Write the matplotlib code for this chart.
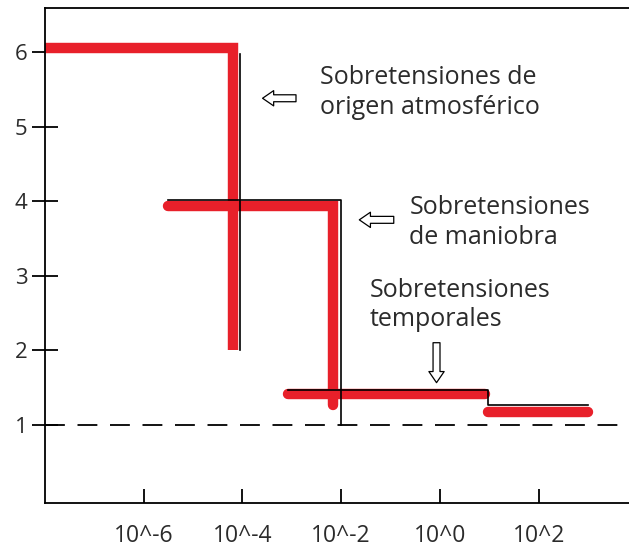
import matplotlib.pyplot as plt

# x in decades (log10 of time), y in p.u.
atm_x = [-8.0, -4.19, -4.19]
atm_y = [6.05, 6.05, 2.0]
man_x = [-5.5, -2.17, -2.17]
man_y = [3.94, 3.94, 1.27]
temp_x = [-3.08, 0.92]
temp_y = [1.41, 1.41]
temp2_x = [0.98, 3.0]
temp2_y = [1.17, 1.17]

# thin black envelope
env1_x = [-4.06, -4.06]
env1_y = [5.97, 2.0]
env2_x = [-5.5, -2.0, -2.0]
env2_y = [4.02, 4.02, 1.0]
env3_x = [-3.08, 0.98, 0.98, 3.0]
env3_y = [1.47, 1.47, 1.27, 1.27]

xticks = [-6, -4, -2, 0, 2]
xlabels = ['10^-6', '10^-4', '10^-2', '10^0', '10^2']
yticks = [1, 2, 3, 4, 5, 6]

red = '#e8202a'
txt = '#2b2b2b'
font = 'Open Sans'

fig = plt.figure(figsize=(6.29, 5.52), dpi=100)
ax = fig.add_axes([45/629, 49/552, 590/629, 495/552])

ax.axhline(1, color='black', lw=1.3, dashes=(11, 7))

ax.plot(atm_x, atm_y, color=red, lw=7.5, solid_joinstyle='miter', solid_capstyle='butt')
ax.plot(man_x, man_y, color=red, lw=7.5, solid_joinstyle='miter', solid_capstyle='round')
ax.plot(temp_x, temp_y, color=red, lw=7.5, solid_capstyle='round')
ax.plot(temp2_x, temp2_y, color=red, lw=7.5, solid_capstyle='round')

for ex, ey in [(env1_x, env1_y), (env2_x, env2_y), (env3_x, env3_y)]:
    ax.plot(ex, ey, color='black', lw=1.2)

# hollow arrows
arr = dict(arrowstyle='simple,head_length=0.8,head_width=1.1,tail_width=0.5',
           fc='white', ec='black', lw=0.9)
ax.annotate('', xy=(-3.65, 5.38), xytext=(-2.86, 5.38), arrowprops=arr)
ax.annotate('', xy=(-1.69, 3.75), xytext=(-0.88, 3.75), arrowprops=arr)
ax.annotate('', xy=(-0.07, 1.53), xytext=(-0.07, 2.14), arrowprops=arr)

fs = 18
ax.text(-2.44, 5.46, 'Sobretensiones de\norigen atmosférico', fontsize=fs,
        color=txt, family=font, va='center', ha='left', linespacing=1.25)
ax.text(-0.62, 3.71, 'Sobretensiones\nde maniobra', fontsize=fs,
        color=txt, family=font, va='center', ha='left', linespacing=1.25)
ax.text(-1.43, 2.61, 'Sobretensiones\ntemporales', fontsize=fs,
        color=txt, family=font, va='center', ha='left', linespacing=1.25)

ax.set_xlim(-8.0, 3.95)
ax.set_ylim(-0.046, 6.59)
ax.set_xticks(xticks)
ax.set_xticklabels(xlabels, family=font, fontsize=16.5, color=txt)
ax.set_yticks(yticks)
ax.set_yticklabels([str(v) for v in yticks], family=font, fontsize=16, color=txt)
ax.tick_params(axis='x', direction='in', length=10, width=1.3, pad=15)
ax.tick_params(axis='y', direction='inout', length=19, width=1.3, pad=3)
ax.spines['right'].set_visible(False)
for s in ['left', 'bottom', 'top']:
    ax.spines[s].set_linewidth(1.3)

fig.savefig('out.png', dpi=100)
